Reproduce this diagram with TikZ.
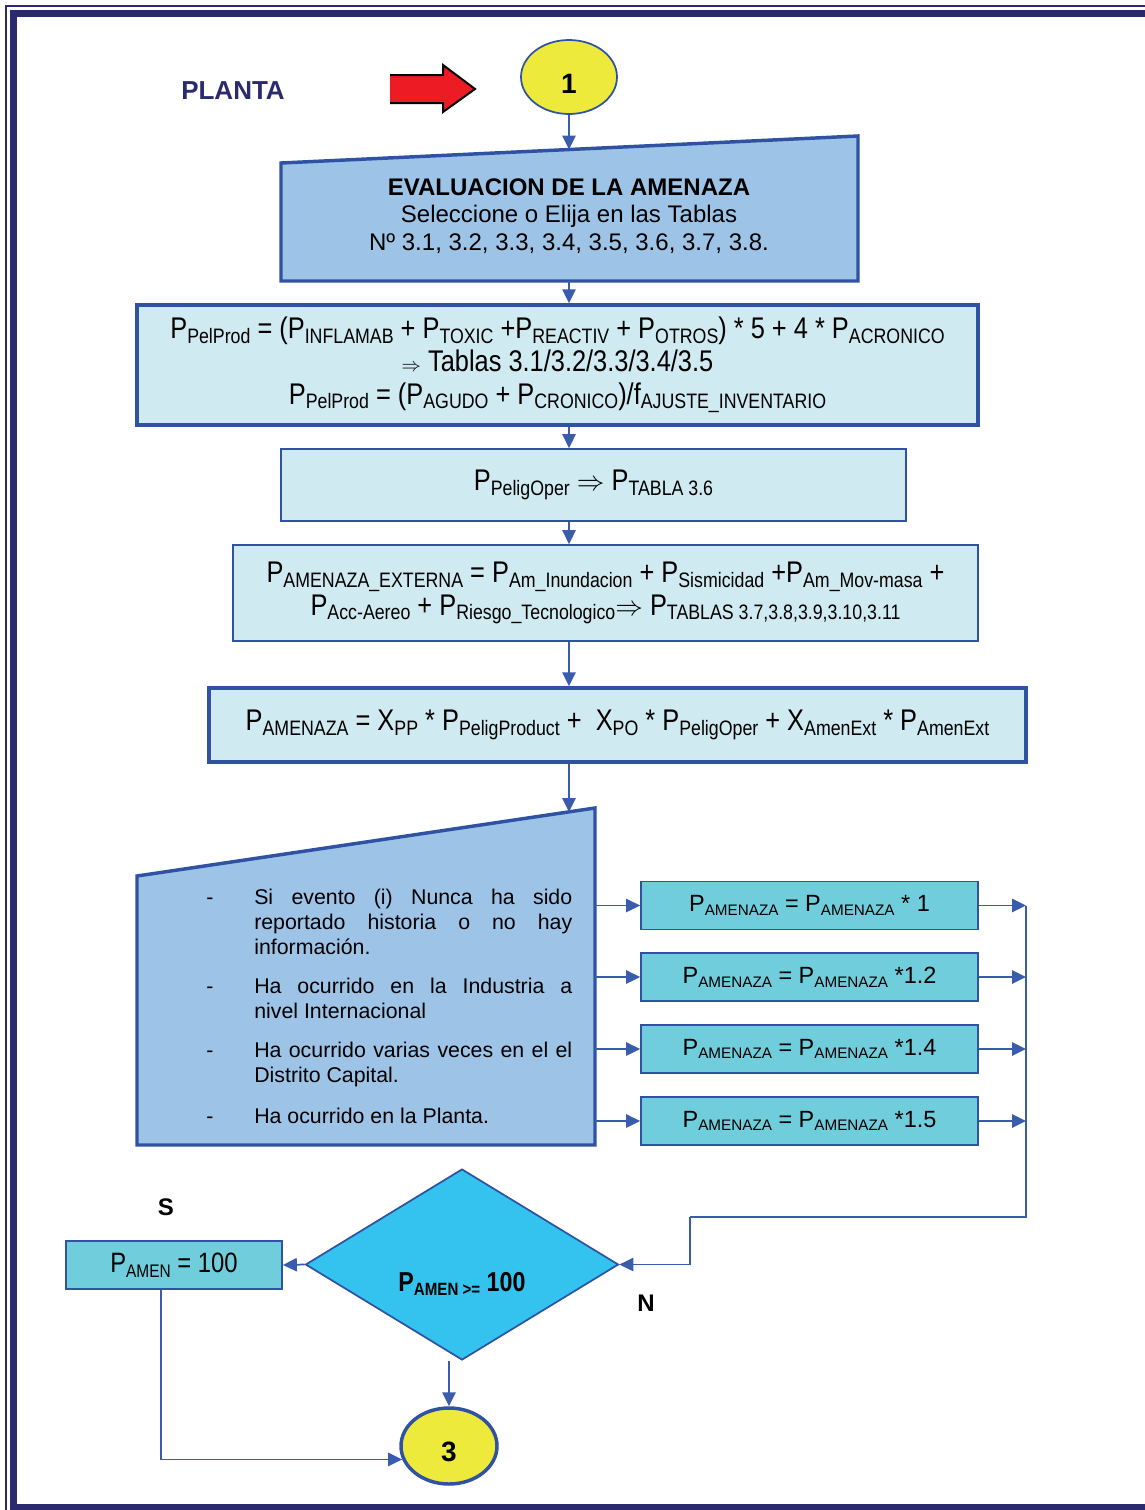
\documentclass[tikz,border=0pt]{standalone}
\usepackage{fontspec}
\setmainfont{Liberation Sans}
\newfontfamily\narrowfont[FakeStretch=0.85]{Liberation Sans}
\usetikzlibrary{arrows.meta,shapes.geometric,calc}

\definecolor{navy}{RGB}{43,42,110}
\definecolor{edge}{RGB}{47,82,162}
\definecolor{wire}{RGB}{58,92,172}
\definecolor{inputfill}{RGB}{157,195,230}
\definecolor{calcfill}{RGB}{207,234,241}
\definecolor{factorfill}{RGB}{112,205,220}
\definecolor{decfill}{RGB}{51,195,238}
\definecolor{connfill}{RGB}{238,234,60}
\definecolor{alarm}{RGB}{237,28,36}

% lowered, reduced index text
\newcommand\lo[1]{\raisebox{-0.3ex}{\scalebox{0.65}{#1}}}
\newcommand\lw[1]{\raisebox{-0.3ex}{\scalebox{0.7}{#1}}}

\tikzset{
  thickbox/.style={rectangle, draw=edge, line width=2.6pt, inner sep=0pt},
  thinbox/.style={rectangle, draw=edge, line width=1.3pt, inner sep=0pt},
  calcbox/.style={fill=calcfill, align=center,
    font=\narrowfont\fontsize{22.4}{23.5}\selectfont},
  factorbox/.style={thinbox, fill=factorfill, minimum width=252.75pt, minimum height=36pt,
    font=\fontsize{17.6}{20}\selectfont},
  connector/.style={ellipse, draw=edge, fill=connfill, inner sep=0pt, minimum width=72pt},
  connlabel/.style={font=\bfseries\fontsize{21}{24}\selectfont, inner sep=0pt},
  arr/.style={draw=wire, line width=1.3pt, -{Triangle[length=10.5pt,width=10pt]}},
  wireline/.style={draw=wire, line width=1.3pt},
  listitem/.style={anchor=base west, inner sep=0pt, text width=238.5pt, align=justify,
    font=\fontsize{16}{18.75}\selectfont},
  dashmark/.style={anchor=base, inner sep=0pt, font=\fontsize{16}{18.75}\selectfont},
  flag/.style={font=\bfseries\fontsize{18}{20}\selectfont, inner sep=0pt},
}

\begin{document}
\begin{tikzpicture}[x=0.75pt, y=-0.75pt]
\useasboundingbox (0,0) rectangle (1145,1510);

% page frame
\draw[navy, line width=1.1pt] (6,1510) -- (6,6) -- (1145,6);
\draw[navy, line width=4.9pt] (13.3,1510) -- (13.3,13.3) -- (1145,13.3);
\fill[navy] (10,1504) rectangle (1145,1510);

% heading and pointer
\node[navy, font=\bfseries\fontsize{19.5}{22}\selectfont, inner sep=0pt] (planta) at (233,91) {PLANTA};
\fill[alarm] (390,75) -- (443,75) -- (443,65) -- (475,89) -- (443,112) -- (443,103) -- (390,103) -- cycle;
\draw[black, line width=1.5pt, line join=miter] (390,75) -- (443,75) -- (443,65) -- (475,89) -- (443,112) -- (443,103) -- (390,103);

\coordinate (axis) at (569,0);

% start connector
\node[connector, line width=1.3pt, minimum height=55.5pt] (c1) at (569,77) {};
\node[connlabel] (c1txt) at (569,84) {1};

% input block
\draw[edge, fill=inputfill, line width=2.6pt, line join=miter]
  (281,163) -- (858,136) -- (858,281) -- (281,281) -- cycle;
\coordinate (t1top) at (569,149.5);
\coordinate (t1bot) at (569,281);
\node[align=center, inner sep=0pt, font=\fontsize{18}{20.6}\selectfont] (eval) at (569,216)
  {\textbf{EVALUACION DE LA AMENAZA}\\Seleccione o Elija en las Tablas\\Nº 3.1, 3.2, 3.3, 3.4, 3.5, 3.6, 3.7, 3.8.};

% calculation blocks
\node[thickbox, calcbox, minimum width=630.75pt, minimum height=90pt] (b2) at (557.5,365)
  {P\lw{PelProd} = (P\lw{INFLAMAB} + P\lw{TOXIC} +P\lw{REACTIV} + P\lw{OTROS}) * 5 + 4 * P\lw{ACRONICO}\\[1pt]
   \scalebox{0.7}{$\Rightarrow$} Tablas 3.1/3.2/3.3/3.4/3.5\\[1pt]
   P\lw{PelProd} = (P\lw{AGUDO} + P\lw{CRONICO})/f\lw{AJUSTE\_INVENTARIO}};

\node[thinbox, calcbox, minimum width=468.75pt, minimum height=54pt] (b3) at (593.5,485)
  {P\lw{PeligOper} $\Rightarrow$ P\lw{TABLA 3.6}};

\node[thinbox, calcbox, minimum width=558.75pt, minimum height=72pt] (b4) at (605.5,593)
  {P\lw{AMENAZA\_EXTERNA} = P\lw{Am\_Inundacion} + P\lw{Sismicidad} +P\lw{Am\_Mov-masa} +\\[1pt]
   P\lw{Acc-Aereo} + P\lw{Riesgo\_Tecnologico}$\Rightarrow$ P\lw{TABLAS 3.7,3.8,3.9,3.10,3.11}};

\node[thickbox, calcbox, minimum width=612.75pt, minimum height=55.5pt] (b5) at (617.5,725)
  {\raisebox{2pt}{P\lw{AMENAZA} = X\lw{PP} * P\lw{PeligProduct} +\ \ X\lw{PO} * P\lw{PeligOper} + X\lw{AmenExt} * P\lw{AmenExt}}};

% event history block
\draw[edge, fill=inputfill, line width=2.6pt, line join=miter]
  (137,876) -- (595,808) -- (595,1145) -- (137,1145) -- cycle;
\coordinate (t2top) at (569,812);
\coordinate (t2side) at (595,0);

\node[dashmark] (d1) at (210,904) {-};
\node[dashmark] (d2) at (210,993) {-};
\node[dashmark] (d3) at (210,1057) {-};
\node[dashmark] (d4) at (210,1123) {-};
\node[listitem] (it1) at (254,904) {Si evento (i) Nunca ha sido\linebreak reportado historia o no hay\linebreak información.};
\node[listitem] (it2) at (254,993) {Ha ocurrido en la Industria a\linebreak nivel Internacional};
\node[listitem] (it3) at (254,1057) {Ha ocurrido varias veces en el el\linebreak Distrito Capital.};
\node[listitem] (it4) at (254,1123) {Ha ocurrido en la Planta.};

% weighting factors
\node[factorbox] (o1) at (809.5,905.5) {P\lo{AMENAZA} = P\lo{AMENAZA} * 1};
\node[factorbox] (o2) at (809.5,977) {P\lo{AMENAZA} = P\lo{AMENAZA} *1.2};
\node[factorbox] (o3) at (809.5,1049) {P\lo{AMENAZA} = P\lo{AMENAZA} *1.4};
\node[factorbox] (o4) at (809.5,1121) {P\lo{AMENAZA} = P\lo{AMENAZA} *1.5};
\coordinate (bus) at (1026,0);
\coordinate (busend) at (1026,1217);
\coordinate (elbow) at (690,1217);

% decision
\node[diamond, draw=edge, fill=decfill, line width=1.3pt, inner sep=0pt,
      minimum width=234.75pt, minimum height=143.25pt] (dia) at (462,1264.5) {};
\node[inner sep=0pt, font=\narrowfont\bfseries\fontsize{20.5}{22}\selectfont] (cond) at (462,1284)
  {P\lo{AMEN >=} 100};

\node[thinbox, fill=factorfill, minimum width=162pt, minimum height=36pt,
      font=\narrowfont\fontsize{21}{23}\selectfont] (pa) at (174,1265) {P\lo{AMEN} = 100};
\coordinate (pdrop) at ($(pa.south)+(-13,0)$);

\node[flag] (yes) at (166,1207) {S};
\node[flag] (no) at (646,1303) {N};

% end connector
\node[connector, line width=2.6pt, minimum height=57pt] (c3) at (449,1446) {};
\node[connlabel] (c3txt) at (449,1452) {3};

% flow
\draw[arr] (c1.south) -- (t1top);
\draw[arr] (t1bot) -- (b2.north -| axis);
\draw[arr] (b2.south -| axis) -- (b3.north -| axis);
\draw[arr] (b3.south -| axis) -- (b4.north -| axis);
\draw[arr] (b4.south -| axis) -- (b5.north -| axis);
\draw[arr] (b5.south -| axis) -- (t2top);
\foreach \o in {o1,o2,o3,o4}{
  \draw[arr] (\o.west -| t2side) -- (\o.west);
  \draw[arr] (\o.east) -- (\o.east -| bus);
}
\draw[wireline] (o1.east -| bus) -- (busend) -- (elbow);
\draw[arr] (elbow) |- (dia.east);
\draw[arr] (dia.west) -- (pa.east);
\draw[arr] (dia.south -| c3.north) -- (c3.north);
\draw[arr] (pdrop) |- (c3.196);
\end{tikzpicture}
\end{document}
